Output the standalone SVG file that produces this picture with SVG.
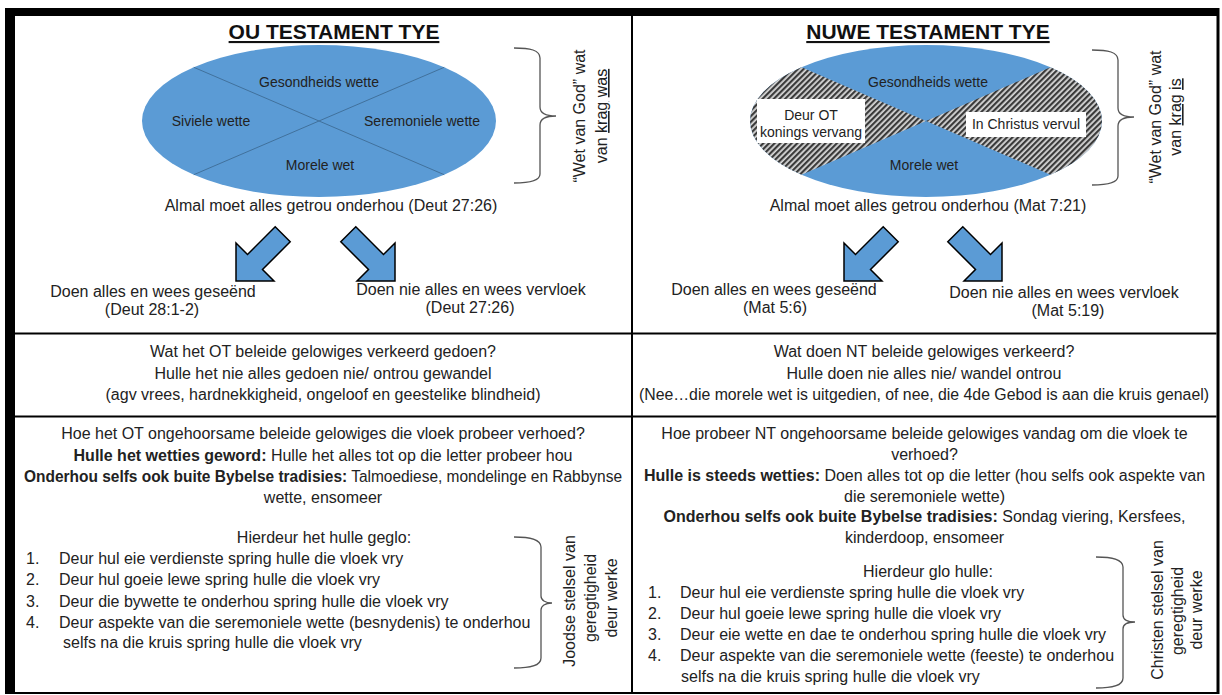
<svg xmlns="http://www.w3.org/2000/svg" xmlns:xlink="http://www.w3.org/1999/xlink" width="1222" height="695" viewBox="0 0 1222 695">
<style>
.t{font-family:"Liberation Sans",Arial,sans-serif;font-size:16px;fill:#222}
.m{text-anchor:middle}
.s{font-size:14px}
.b{font-weight:bold}
.u{text-decoration:underline}
.title{font-family:"Liberation Sans",Arial,sans-serif;font-size:21px;font-weight:bold;text-decoration:underline;fill:#111;text-anchor:middle}
.arrow{fill:#5b9bd5;stroke:#000;stroke-width:1.5;stroke-linejoin:miter}
.brace{fill:none;stroke:#555;stroke-width:1.3}
.grid{stroke:#000;stroke-width:2}
</style>
<defs>
<pattern id="hatch" width="4" height="4" patternUnits="userSpaceOnUse" patternTransform="rotate(45)">
<rect width="4" height="4" fill="#d8d8d8"/>
<rect width="2.2" height="4" fill="#3a3a3a"/>
</pattern>
<path id="arr" d="M0,0 L0,-38 L11.5,-26.5 L39.2,-54.2 L54.2,-39.2 L26.5,-11.5 L38,0 Z"/>
</defs>

<g id="frame">
<rect x="5" y="8" width="1214.5" height="686" fill="#000"/>
<rect x="15" y="16" width="1201.5" height="676" fill="#fff"/>
<line class="grid" x1="632" y1="16" x2="632" y2="692"/>
<line class="grid" x1="15" y1="333.5" x2="1216.5" y2="333.5"/>
<line class="grid" x1="15" y1="416.5" x2="1216.5" y2="416.5"/>
</g>

<!-- LEFT TOP -->
<g id="ot-title"><text class="title" x="334" y="39">OU TESTAMENT TYE</text></g>
<g id="ot-ellipse">
<ellipse cx="319" cy="121" rx="177" ry="76" fill="#5b9bd5"/>
<line x1="193.8" y1="67.3" x2="444.2" y2="174.7" stroke="#41719c" stroke-width="1"/>
<line x1="193.8" y1="174.7" x2="444.2" y2="67.3" stroke="#41719c" stroke-width="1"/>
<text class="t s m" x="319" y="87">Gesondheids wette</text>
<text class="t s m" x="211" y="126">Siviele wette</text>
<text class="t s m" x="422" y="126">Seremoniele wette</text>
<text class="t s m" x="320" y="170">Morele wet</text>
</g>
<g id="ot-brace">
<path class="brace" d="M514,48 C530,48 540,50 540,58 L540,107 C540,113 546,116 556,116 C546,116 540,119 540,125 L540,174 C540,181 530,183 514,183"/>
<text class="t" transform="translate(585,116) rotate(-90)" text-anchor="middle">“Wet van God” wat</text>
<text class="t" transform="translate(607,116) rotate(-90)" text-anchor="middle">van <tspan class="u">krag</tspan> <tspan class="u">was</tspan></text>
</g>
<g id="ot-rule"><text class="t m" x="331" y="211">Almal moet alles getrou onderhou (Deut 27:26)</text></g>
<g id="ot-blessed">
<text class="t m" x="153" y="297">Doen alles en wees geseënd</text>
<text class="t m" x="152" y="315">(Deut 28:1-2)</text>
</g>
<g id="ot-cursed">
<text class="t m" x="471" y="295">Doen nie alles en wees vervloek</text>
<text class="t m" x="470" y="313">(Deut 27:26)</text>
</g>

<!-- RIGHT TOP -->
<g id="nt-title"><text class="title" x="928" y="39">NUWE TESTAMENT TYE</text></g>
<g id="nt-ellipse">
<ellipse cx="926" cy="121" rx="176" ry="76" fill="#5b9bd5"/>
<path d="M926,121 L801.5,67.3 A176,76 0 0 0 801.5,174.7 Z" fill="url(#hatch)"/>
<path d="M926,121 L1050.5,67.3 A176,76 0 0 1 1050.5,174.7 Z" fill="url(#hatch)"/>
<text class="t s m" x="928" y="87">Gesondheids wette</text>
<text class="t s m" x="924" y="170">Morele wet</text>
<rect x="757" y="99" width="108" height="44" fill="#fff"/>
<text class="t s m" x="811" y="120">Deur OT</text>
<text class="t s m" x="811" y="137">konings vervang</text>
<rect x="966" y="112" width="120" height="25" fill="#fff"/>
<text class="t s m" x="1026" y="129">In Christus vervul</text>
</g>
<g id="nt-brace">
<path class="brace" d="M1092,50 C1108,50 1118,52 1118,60 L1118,108 C1118,114 1124,117 1134,117 C1124,117 1118,120 1118,126 L1118,176 C1118,183 1108,185 1092,185"/>
<text class="t" transform="translate(1161,117) rotate(-90)" text-anchor="middle">“Wet van God” wat</text>
<text class="t" transform="translate(1181,117) rotate(-90)" text-anchor="middle">van <tspan class="u">krag</tspan> <tspan class="u">is</tspan></text>
</g>
<g id="nt-rule"><text class="t m" x="928" y="211">Almal moet alles getrou onderhou (Mat 7:21)</text></g>
<g id="nt-blessed">
<text class="t m" x="774" y="295">Doen alles en wees geseënd</text>
<text class="t m" x="775" y="313">(Mat 5:6)</text>
</g>
<g id="nt-cursed">
<text class="t m" x="1064" y="298">Doen nie alles en wees vervloek</text>
<text class="t m" x="1068" y="316">(Mat 5:19)</text>
</g>

<g id="connectors">
<use href="#arr" class="arrow" transform="translate(236,281)"/>
<use href="#arr" class="arrow" transform="translate(395,281) scale(-1,1)"/>
<use href="#arr" class="arrow" transform="translate(844,281)"/>
<use href="#arr" class="arrow" transform="translate(1002,281) scale(-1,1)"/>
</g>

<!-- ROW 2 -->
<g id="ot-wrong">
<text class="t m" x="323" y="357">Wat het OT beleide gelowiges verkeerd gedoen?</text>
<text class="t m" x="323" y="379">Hulle het nie alles gedoen nie/ ontrou gewandel</text>
<text class="t m" x="323" y="400">(agv vrees, hardnekkigheid, ongeloof en geestelike blindheid)</text>
</g>
<g id="nt-wrong">
<text class="t m" x="924" y="357">Wat doen NT beleide gelowiges verkeerd?</text>
<text class="t m" x="924" y="379">Hulle doen nie alles nie/ wandel ontrou</text>
<text class="t m" x="924" y="400" textLength="570" lengthAdjust="spacingAndGlyphs">(Nee…die morele wet is uitgedien, of nee, die 4de Gebod is aan die kruis genael)</text>
</g>

<!-- ROW 3 LEFT -->
<g id="ot-avoid">
<text class="t m" x="323" y="439">Hoe het OT ongehoorsame beleide gelowiges die vloek probeer verhoed?</text>
<text class="t m" x="323" y="461"><tspan class="b">Hulle het wetties geword:</tspan> Hulle het alles tot op die letter probeer hou</text>
<text class="t m" x="323" y="482" textLength="598" lengthAdjust="spacingAndGlyphs"><tspan class="b">Onderhou selfs ook buite Bybelse tradisies:</tspan> Talmoediese, mondelinge en Rabbynse</text>
<text class="t m" x="323" y="503">wette, ensomeer</text>
<text class="t m" x="324" y="543">Hierdeur het hulle geglo:</text>
<text class="t" x="26" y="564">1.</text><text class="t" x="59" y="564">Deur hul eie verdienste spring hulle die vloek vry</text>
<text class="t" x="26" y="585">2.</text><text class="t" x="59" y="585">Deur hul goeie lewe spring hulle die vloek vry</text>
<text class="t" x="26" y="607">3.</text><text class="t" x="59" y="607">Deur die bywette te onderhou spring hulle die vloek vry</text>
<text class="t" x="26" y="628">4.</text><text class="t" x="59" y="628">Deur aspekte van die seremoniele wette (besnydenis) te onderhou</text>
<text class="t" x="63" y="648">selfs na die kruis spring hulle die vloek vry</text>
</g>
<g id="ot-system">
<path class="brace" d="M514,537 C530,537 541,539 541,547 L541,596 C541,600 545,603 552,603 C545,603 541,606 541,610 L541,658 C541,666 530,668 514,668"/>
<text class="t" transform="translate(575,601) rotate(-90)" text-anchor="middle">Joodse stelsel van</text>
<text class="t" transform="translate(596,598) rotate(-90)" text-anchor="middle">geregtigheid</text>
<text class="t" transform="translate(617,598) rotate(-90)" text-anchor="middle">deur werke</text>
</g>

<!-- ROW 3 RIGHT -->
<g id="nt-avoid">
<text class="t m" x="924.5" y="439">Hoe probeer NT ongehoorsame beleide gelowiges vandag om die vloek te</text>
<text class="t m" x="924.5" y="460">verhoed?</text>
<text class="t m" x="924.5" y="481"><tspan class="b">Hulle is steeds wetties:</tspan> Doen alles tot op die letter (hou selfs ook aspekte van</text>
<text class="t m" x="924.5" y="502">die seremoniele wette)</text>
<text class="t m" x="924.5" y="522"><tspan class="b">Onderhou selfs ook buite Bybelse tradisies:</tspan> Sondag viering, Kersfees,</text>
<text class="t m" x="924.5" y="543">kinderdoop, ensomeer</text>
<text class="t m" x="928" y="577">Hierdeur glo hulle:</text>
<text class="t" x="648" y="598">1.</text><text class="t" x="680" y="598">Deur hul eie verdienste spring hulle die vloek vry</text>
<text class="t" x="648" y="619">2.</text><text class="t" x="680" y="619">Deur hul goeie lewe spring hulle die vloek vry</text>
<text class="t" x="648" y="640">3.</text><text class="t" x="680" y="640">Deur eie wette en dae te onderhou spring hulle die vloek vry</text>
<text class="t" x="648" y="661">4.</text><text class="t" x="680" y="661">Deur aspekte van die seremoniele wette (feeste) te onderhou</text>
<text class="t" x="681" y="682">selfs na die kruis spring hulle die vloek vry</text>
</g>
<g id="nt-system">
<path class="brace" d="M1096,557 C1112,557 1123,559 1123,567 L1123,615 C1123,619 1127,622 1135,622 C1127,622 1123,625 1123,629 L1123,678 C1123,686 1112,688 1096,688"/>
<text class="t" transform="translate(1163,610) rotate(-90)" text-anchor="middle">Christen stelsel van</text>
<text class="t" transform="translate(1183,611) rotate(-90)" text-anchor="middle">geregtigheid</text>
<text class="t" transform="translate(1202,610) rotate(-90)" text-anchor="middle">deur werke</text>
</g>
</svg>
